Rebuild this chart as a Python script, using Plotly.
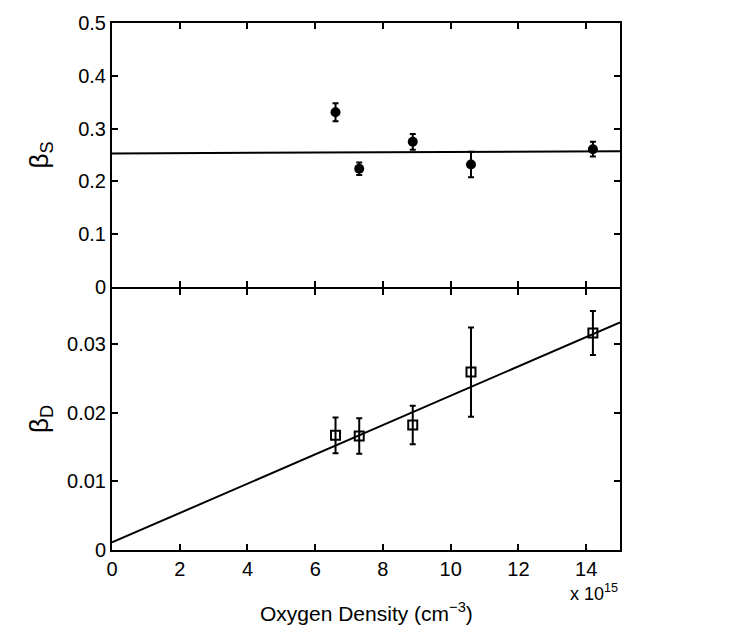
import plotly.graph_objects as go

density = [6.6, 7.3, 8.88, 10.6, 14.2]
beta_s = [0.331, 0.224, 0.275, 0.232, 0.261]
beta_s_err = [0.017, 0.012, 0.015, 0.024, 0.014]
beta_d = [0.0167, 0.0166, 0.0182, 0.0259, 0.0316]
beta_d_err = [0.0026, 0.0026, 0.0028, 0.0065, 0.0032]
fit_x = [0, 15]
fit_s = [0.253, 0.257]
fit_d = [0.00111, 0.03314]

x_ticks = [0, 2, 4, 6, 8, 10, 12, 14]
ys_ticks = [0, 0.1, 0.2, 0.3, 0.4, 0.5]
yd_ticks = [0, 0.01, 0.02, 0.03]

FONT = "Liberation Sans, Arial, Helvetica, sans-serif"
fig = go.Figure()

# top panel
fig.add_trace(go.Scatter(x=fit_x, y=fit_s, mode="lines", line=dict(color="black", width=2),
                         xaxis="x", yaxis="y", showlegend=False))
fig.add_trace(go.Scatter(x=density, y=beta_s, mode="markers",
                         marker=dict(symbol="circle", size=10, color="black"),
                         error_y=dict(type="data", array=beta_s_err, color="black", thickness=2, width=3),
                         xaxis="x", yaxis="y", showlegend=False))
# bottom panel
fig.add_trace(go.Scatter(x=fit_x, y=fit_d, mode="lines", line=dict(color="black", width=2),
                         xaxis="x2", yaxis="y2", showlegend=False))
fig.add_trace(go.Scatter(x=density, y=beta_d, mode="markers",
                         marker=dict(symbol="square-open", size=9, color="black", line=dict(width=2)),
                         error_y=dict(type="data", array=beta_d_err, color="black", thickness=2, width=3),
                         xaxis="x2", yaxis="y2", showlegend=False))

W, H = 734, 631
L, R, T, B = 112, 114, 23, 81
area = H - T - B
split = (550 - 288) / area
gap = 1 / area

axis_common = dict(showline=True, linecolor="black", linewidth=2, mirror="ticks",
                   ticks="inside", ticklen=6, tickwidth=2, tickcolor="black",
                   showgrid=False, zeroline=False,
                   tickfont=dict(family=FONT, size=20, color="black"))

fig.update_layout(
    width=W, height=H,
    margin=dict(l=L, r=R, t=T, b=B),
    paper_bgcolor="white", plot_bgcolor="white",
    font=dict(family=FONT, color="black"),
    xaxis=dict(domain=[0, 1], anchor="y", range=[0, 15], tickvals=x_ticks, showticklabels=False, **axis_common),
    yaxis=dict(domain=[split + gap, 1], anchor="x", range=[0, 0.5], tickvals=ys_ticks,
               ticktext=[f"{v:g}" for v in ys_ticks], **axis_common),
    xaxis2=dict(domain=[0, 1], anchor="y2", range=[0, 15], tickvals=x_ticks,
                ticktext=[str(v) for v in x_ticks], **axis_common),
    yaxis2=dict(domain=[0, split - gap], anchor="x2", range=[0, 0.038], tickvals=yd_ticks,
                ticktext=[f"{v:g}" for v in yd_ticks], **axis_common),
    annotations=[
        dict(text="β<sub>S</sub>", xref="paper", yref="paper", x=0, y=(split + 1) / 2,
             xanchor="center", yanchor="middle",
             xshift=-72, textangle=-90, showarrow=False, font=dict(family=FONT, size=26)),
        dict(text="β<sub>D</sub>", xref="paper", yref="paper", x=0, y=split / 2,
             xanchor="center", yanchor="middle",
             xshift=-72, textangle=-90, showarrow=False, font=dict(family=FONT, size=26)),
        dict(text="Oxygen Density (cm<sup>−3</sup>)", xref="paper", yref="paper", x=0.5, y=0,
             xanchor="center", yanchor="middle", yshift=-62, showarrow=False, font=dict(family=FONT, size=21)),
        dict(text="x 10<sup>15</sup>", xref="paper", yref="paper", x=1, y=0, xanchor="right",
             yanchor="middle", yshift=-42, showarrow=False, font=dict(family=FONT, size=18)),
    ],
)

fig.write_html("out.html", config={"displayModeBar": False},
               post_script="document.body.style.margin='0';")
